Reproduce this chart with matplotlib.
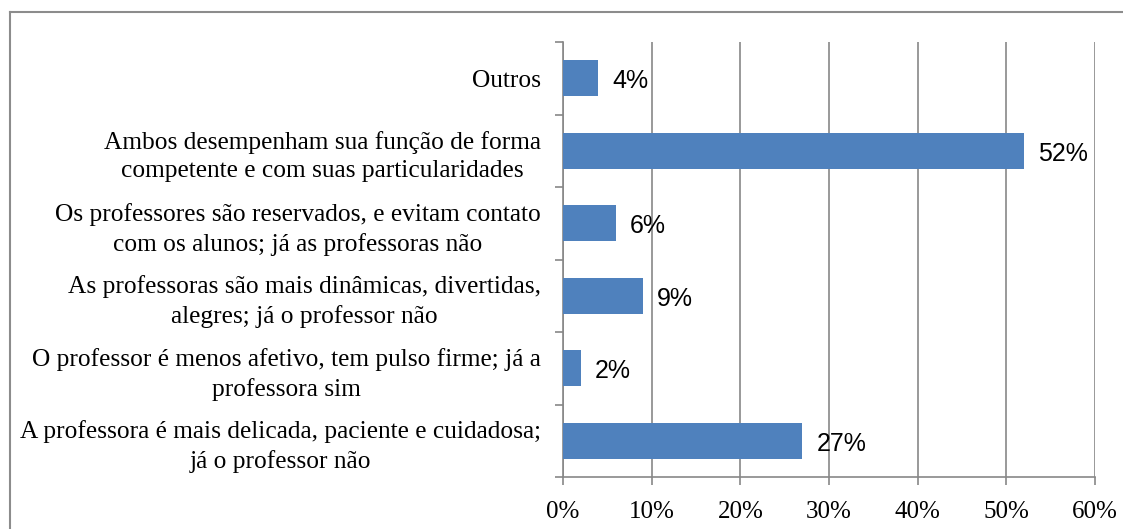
#!/usr/bin/env python3
"""Horizontal bar chart: perceptions of male vs female teachers."""

import matplotlib.pyplot as plt
from matplotlib.lines import Line2D
from matplotlib.ticker import FixedLocator, PercentFormatter

categories = [
    "A professora é mais delicada, paciente e cuidadosa;\njá o professor não",
    "O professor é menos afetivo, tem pulso firme; já a\nprofessora sim",
    "As professoras são mais dinâmicas, divertidas,\nalegres; já o professor não",
    "Os professores são reservados, e evitam contato\ncom os alunos; já as professoras não",
    "Ambos desempenham sua função de forma\ncompetente e com suas particularidades",
    "Outros",
]
values = [27, 2, 9, 6, 52, 4]
x_ticks = [0, 10, 20, 30, 40, 50, 60]

BAR_COLOR = "#4F81BD"
GRID_COLOR = "#878787"
SERIF = "Liberation Serif"
SANS = "Liberation Sans"


def main():
    fig = plt.figure(figsize=(11.23, 5.29), dpi=100)
    ax = fig.add_axes([563 / 1123, 1 - 477 / 529, 532 / 1123, 435 / 529])

    y = list(range(len(categories)))
    ax.barh(y, values, height=0.5, color=BAR_COLOR, zorder=3)

    for yi, v in zip(y, values):
        ax.annotate(f"{v}%", (v, yi), xytext=(10, -2), textcoords="offset points",
                    va="center", ha="left", fontsize=18, family=SANS, zorder=4)

    ax.set_xlim(0, 60)
    ax.set_ylim(-0.5, len(categories) - 0.5)
    ax.set_xticks(x_ticks)
    ax.xaxis.set_major_formatter(PercentFormatter(decimals=0))
    ax.set_yticks(y)
    ax.set_yticklabels(categories, family=SERIF, fontsize=18.3,
                       multialignment="center", linespacing=1.38)
    ax.yaxis.set_minor_locator(FixedLocator([i - 0.5 for i in range(len(categories) + 1)]))
    ax.tick_params(axis="y", which="major", length=0, pad=16)
    ax.tick_params(axis="y", which="minor", length=6, width=1.2, color=GRID_COLOR)
    ax.tick_params(axis="x", length=6, width=1.2, color=GRID_COLOR, pad=11)
    for lab in ax.get_xticklabels():
        lab.set_family(SERIF)
        lab.set_fontsize(18)

    ax.grid(axis="x", color=GRID_COLOR, linewidth=1.2, zorder=0)
    ax.set_axisbelow(True)
    for side in ("top", "right"):
        ax.spines[side].set_visible(False)
    for side in ("left", "bottom"):
        ax.spines[side].set_color(GRID_COLOR)
        ax.spines[side].set_linewidth(1.2)

    # outer chart border (runs off the right and bottom edges)
    bx, by = 10 / 1123, 1 - 12 / 529
    fig.add_artist(Line2D([bx, bx], [by, -0.1], transform=fig.transFigure,
                          color="#8c8c8c", linewidth=1.5))
    fig.add_artist(Line2D([bx, 1.1], [by, by], transform=fig.transFigure,
                          color="#8c8c8c", linewidth=1.5))

    fig.savefig("out.png", dpi=100, facecolor="white")
    plt.close(fig)


if __name__ == "__main__":
    main()
